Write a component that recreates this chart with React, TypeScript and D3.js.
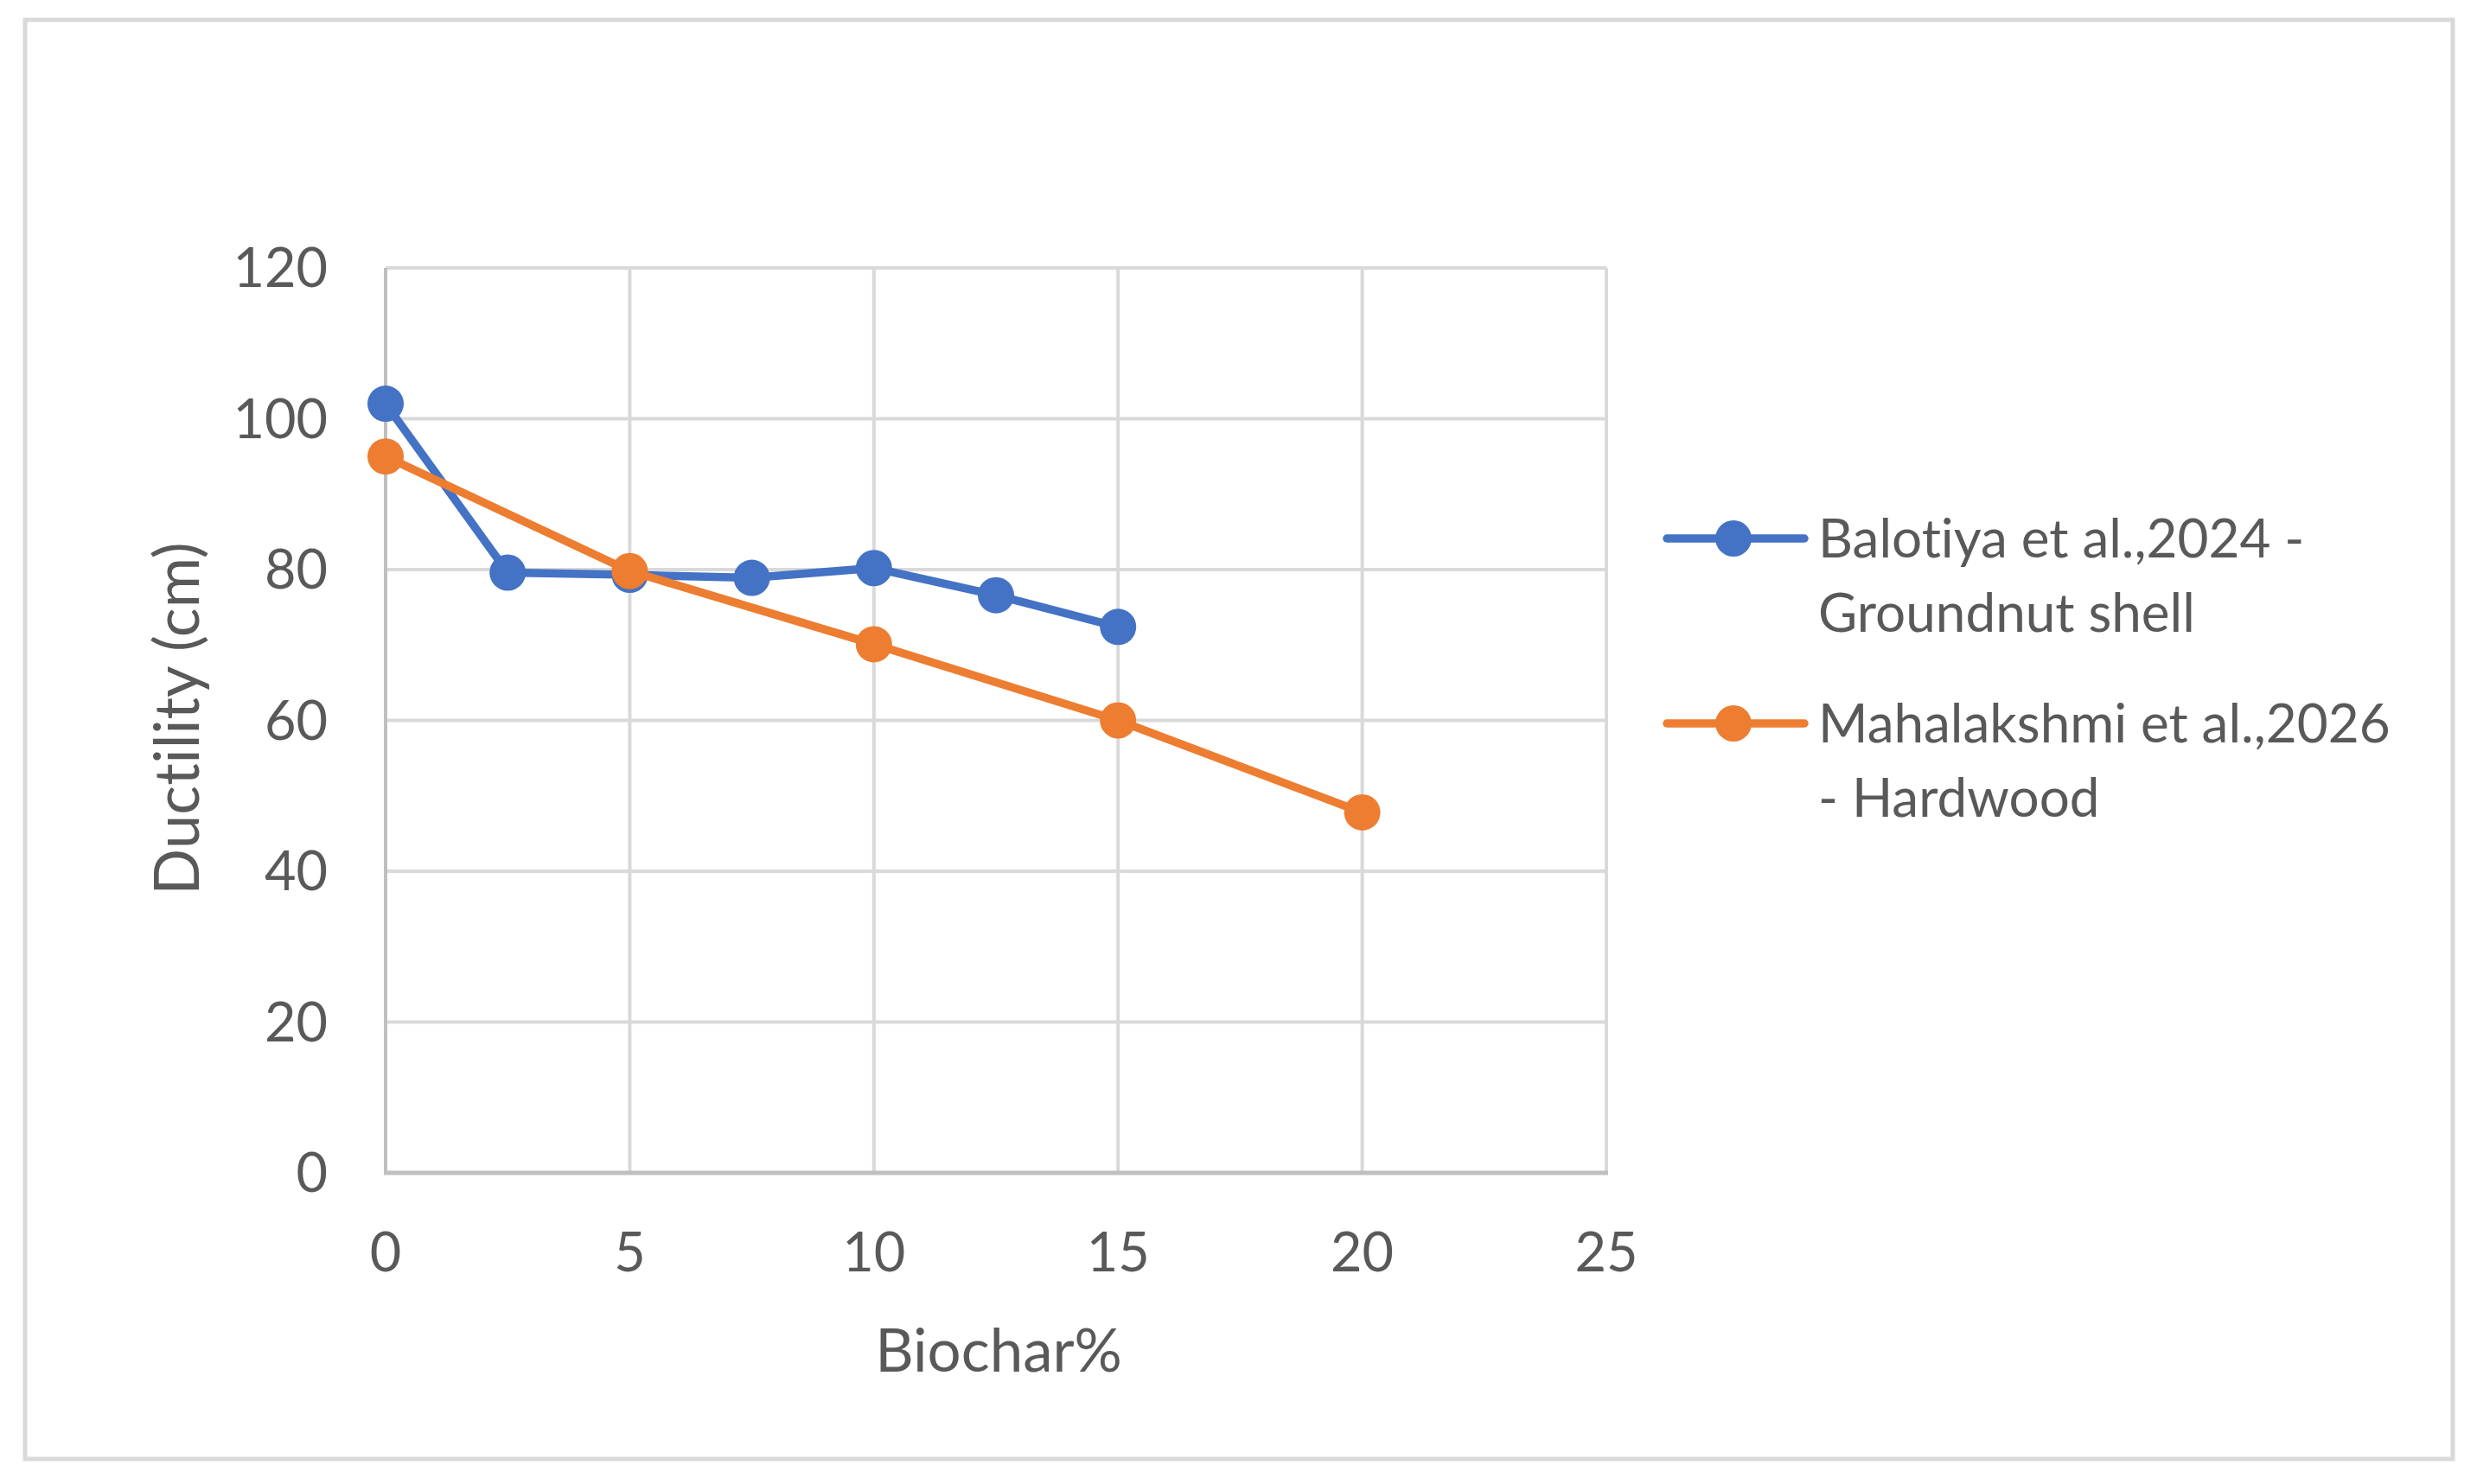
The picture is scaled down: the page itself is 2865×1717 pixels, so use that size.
import * as d3 from 'd3';
import React, { FC, useEffect, useRef } from 'react';

const biocharX = [0, 2.5, 5, 7.5, 10, 12.5, 15];
const balotiyaY = [102, 79.6, 79.3, 78.9, 80.2, 76.6, 72.4];
const hardwoodX = [0, 5, 10, 15, 20];
const hardwoodY = [95, 79.8, 70.1, 60, 47.8];
const xTicks = [0, 5, 10, 15, 20, 25];
const yTicks = [0, 20, 40, 60, 80, 100, 120];
const seriesNames = [
	['Balotiya et al.,2024 -', 'Groundnut shell'],
	['Mahalakshmi et al.,2026', '- Hardwood'],
];
const seriesColors = ['#4472C4', '#ED7D31'];

const DuctilityChart: FC = () => {
	const ref = useRef<SVGSVGElement>(null);
	const width = 2865;
	const height = 1717;
	const margin = { top: 310, right: 1007, bottom: 360, left: 446 };
	const font = 'Lato, "Open Sans", sans-serif';
	const textColor = '#595959';

	useEffect(() => {
		const svg = d3.select(ref.current);
		svg.selectAll('*').remove();

		const x = d3
			.scaleLinear()
			.domain([0, 25])
			.range([margin.left, width - margin.right]);
		const y = d3
			.scaleLinear()
			.domain([0, 120])
			.range([height - margin.bottom, margin.top]);

		svg.append('rect').attr('width', width).attr('height', height).attr('fill', '#fff');
		// outer chart frame
		svg.append('rect')
			.attr('x', 29)
			.attr('y', 23)
			.attr('width', 2808)
			.attr('height', 1665)
			.attr('fill', '#fff')
			.attr('stroke', '#d9d9d9')
			.attr('stroke-width', 5);

		// gridlines
		const grid = svg.append('g').attr('stroke', '#d9d9d9').attr('stroke-width', 4);
		grid.selectAll('.hg')
			.data(yTicks.filter(d => d > 0))
			.join('line')
			.attr('x1', x(0))
			.attr('x2', x(25))
			.attr('y1', d => y(d))
			.attr('y2', d => y(d));
		grid.selectAll('.vg')
			.data(xTicks.filter(d => d > 0))
			.join('line')
			.attr('x1', d => x(d))
			.attr('x2', d => x(d))
			.attr('y1', y(0))
			.attr('y2', y(120));

		// axes lines
		svg.append('line')
			.attr('x1', x(0))
			.attr('x2', x(0))
			.attr('y1', y(0))
			.attr('y2', y(120))
			.attr('stroke', '#bfbfbf')
			.attr('stroke-width', 4);
		svg.append('line')
			.attr('x1', x(0) - 2)
			.attr('x2', x(25) + 2)
			.attr('y1', y(0))
			.attr('y2', y(0))
			.attr('stroke', '#bfbfbf')
			.attr('stroke-width', 5);

		// tick labels
		svg.append('g')
			.selectAll('text')
			.data(yTicks)
			.join('text')
			.attr('x', 379)
			.attr('y', d => y(d) + 22)
			.attr('text-anchor', 'end')
			.attr('font-family', font)
			.attr('font-size', 63)
			.attr('fill', textColor)
			.text(d => d);
		svg.append('g')
			.selectAll('text')
			.data(xTicks)
			.join('text')
			.attr('x', d => x(d))
			.attr('y', 1471)
			.attr('text-anchor', 'middle')
			.attr('font-family', font)
			.attr('font-size', 63)
			.attr('fill', textColor)
			.text(d => d);

		// axis titles
		svg.append('text')
			.attr('transform', `translate(230,${(y(0) + y(120)) / 2 - 2}) rotate(-90)`)
			.attr('text-anchor', 'middle')
			.attr('font-family', font)
			.attr('font-size', 71)
			.attr('fill', textColor)
			.text('Ductility (cm)');
		svg.append('text')
			.attr('x', 1155)
			.attr('y', 1587)
			.attr('text-anchor', 'middle')
			.attr('font-family', font)
			.attr('font-size', 69)
			.attr('fill', textColor)
			.text('Biochar%');

		// series
		const series = [
			biocharX.map((d, i) => [d, balotiyaY[i]] as [number, number]),
			hardwoodX.map((d, i) => [d, hardwoodY[i]] as [number, number]),
		];
		const line = d3
			.line<[number, number]>()
			.x(d => x(d[0]))
			.y(d => y(d[1]));

		series.forEach((pts, si) => {
			const g = svg.append('g');
			g.append('path')
				.attr('d', line(pts))
				.attr('fill', 'none')
				.attr('stroke', seriesColors[si])
				.attr('stroke-width', 9.5)
				.attr('stroke-linejoin', 'round');
			g.selectAll('circle')
				.data(pts)
				.join('circle')
				.attr('cx', d => x(d[0]))
				.attr('cy', d => y(d[1]))
				.attr('r', 21)
				.attr('fill', seriesColors[si]);
		});

		// legend
		const legendY = [623, 837];
		seriesNames.forEach((lines, i) => {
			const g = svg.append('g');
			g.append('line')
				.attr('x1', 1928)
				.attr('x2', 2087)
				.attr('y1', legendY[i])
				.attr('y2', legendY[i])
				.attr('stroke', seriesColors[i])
				.attr('stroke-width', 9.5)
				.attr('stroke-linecap', 'round');
			g.append('circle')
				.attr('cx', 2005)
				.attr('cy', legendY[i])
				.attr('r', 21)
				.attr('fill', seriesColors[i]);
			lines.forEach((t, j) => {
				g.append('text')
					.attr('x', 2103)
					.attr('y', legendY[i] + 22 + j * 86)
					.attr('font-family', font)
					.attr('font-size', 62)
					.attr('fill', textColor)
					.text(t);
			});
		});
	}, []);

	return (
		<svg
			ref={ref}
			width={width}
			height={height}
			style={{
				position: 'absolute',
				left: 0,
				top: 0,
				display: 'block',
				fontVariantLigatures: 'none',
			}}
		/>
	);
};

export default function App() {
	return <DuctilityChart />;
}
